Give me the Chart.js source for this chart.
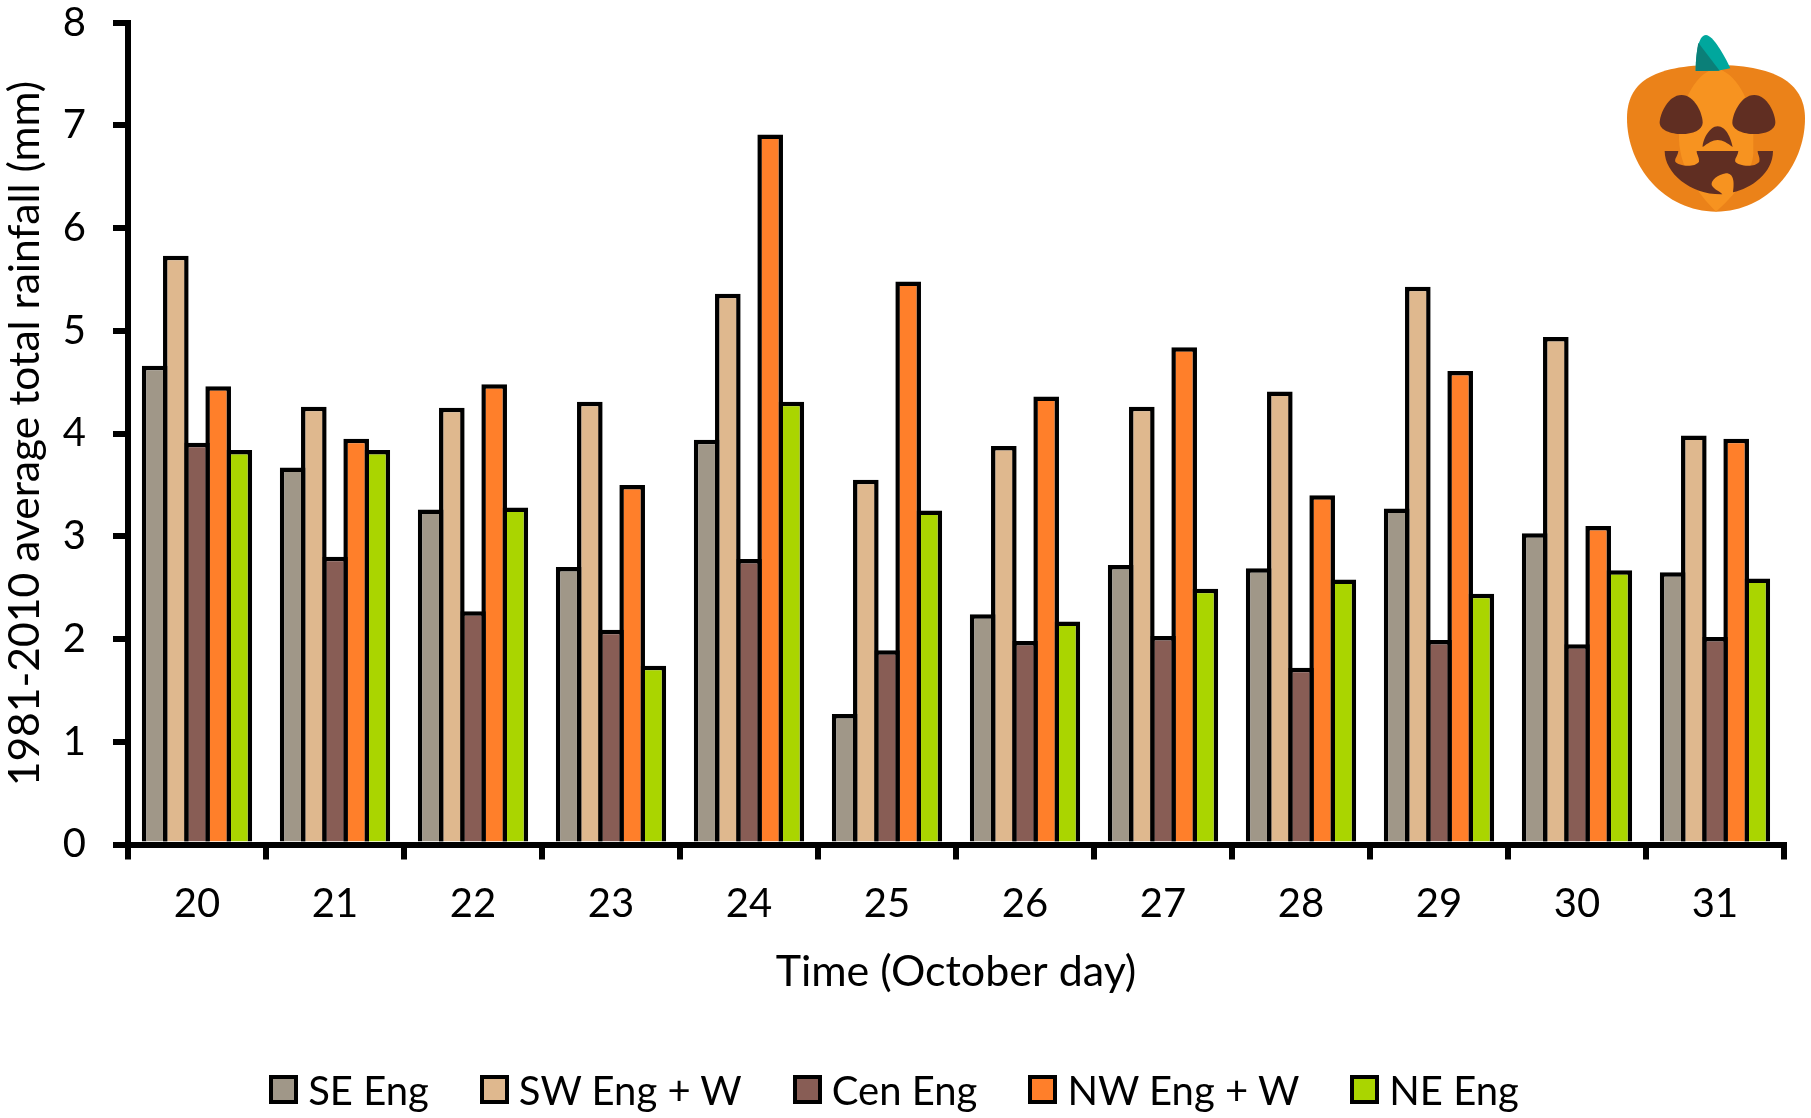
<!DOCTYPE html>
<html>
<head>
<meta charset="utf-8">
<script src="https://cdn.jsdelivr.net/npm/chart.js@4/dist/chart.umd.min.js"></script>
<style>
	html, body { margin: 0; padding: 0; background: #fff; }
	#wrap { position: relative; width: 1811px; height: 1118px; overflow: hidden; }
	#pumpkin { position: absolute; left: 1561px; top: 0; width: 250px; height: 240px; }
	#legend { position: absolute; left: 0; top: 1075px; width: 1788px; height: 29px; display: flex; justify-content: center; gap: 51px; font: 40px Lato; color: #000; }
	#legend div { display: flex; align-items: center; white-space: nowrap; }
	#legend i { display: block; width: 29px; height: 29px; box-sizing: border-box; border: 4.5px solid #000; margin-right: 10px; }
</style>
</head>
<body>
<div id="wrap">
	<canvas id="rain" width="1811" height="1118"></canvas>
	<div id="legend"></div>
	<!-- pumpkin decoration, top right corner -->
	<svg id="pumpkin" viewBox="0 0 750 720">
		<path fill="#EB8219" d="M198,355 C198,250 270,195 465,195 C660,195 732,260 732,355 C732,500 620,635 465,635 C310,635 198,500 198,355Z"/>
		<path fill="#F79320" d="M465,205 C520,215 575,300 577,400 L577,450 C580,500 540,570 465,635 C410,580 350,500 354,400 C358,300 410,215 465,205Z"/>
		<path fill="#602E22" d="M362,285 C320,285 296,345 296,368 C296,390 330,402 362,402 C395,402 425,390 425,368 C425,340 400,285 362,285Z"/>
		<path fill="#602E22" d="M580,285 C538,285 514,345 514,368 C514,390 548,402 580,402 C613,402 643,390 643,368 C643,340 618,285 580,285Z"/>
		<path fill="#602E22" d="M470,379 C445,379 425,420 425,441 C440,430 455,420 470,420 C485,420 500,430 515,441 C510,415 495,379 470,379Z"/>
		<path fill="#602E22" d="M311,453 L352,453 C350,470 340,475 343,485 C350,497 400,505 414,485 C415,470 407,465 407,453 L532,453 C530,470 520,475 523,485 C530,497 580,505 595,485 C598,470 590,465 590,453 L636,453 C636,520 570,565 516,577 C520,550 520,520 495,520 C470,525 450,540 452,555 C460,570 475,572 484,583 C390,585 311,520 311,453Z"/>
		<path fill="#00A79D" d="M404,213 C404,170 410,105 435,105 C455,105 490,165 508,205 L470,212Z"/>
		<path fill="#0B7F78" d="M404,213 C404,180 408,150 412,128 L476,212Z"/>
	</svg>
</div>
<script>
// october days
const days = ['20', '21', '22', '23', '24', '25', '26', '27', '28', '29', '30', '31'];
// rainfall per region (mm)
const seEng = [4.66, 3.67, 3.26, 2.70, 3.94, 1.27, 2.24, 2.72, 2.69, 3.27, 3.03, 2.65];
const swEng = [5.73, 4.26, 4.25, 4.31, 5.36, 3.55, 3.88, 4.26, 4.41, 5.43, 4.94, 3.98];
const cenEng = [3.91, 2.80, 2.27, 2.09, 2.78, 1.89, 1.98, 2.03, 1.72, 1.99, 1.95, 2.02];
const nwEng = [4.46, 3.95, 4.48, 3.50, 6.91, 5.48, 4.36, 4.84, 3.40, 4.61, 3.10, 3.95];
const neEng = [3.84, 3.84, 3.28, 1.74, 4.31, 3.25, 2.17, 2.49, 2.58, 2.44, 2.67, 2.59];

Chart.defaults.font.family = "Lato";
Chart.defaults.color = "#000";

function bars(label, data, color) {
	return {
		label,
		data,
		backgroundColor: color,
		borderColor: '#000',
		borderWidth: 4.5,
		borderSkipped: 'bottom',
		// borders of neighbouring bars overlap, like the excel original
		barPercentage: 1.21,
		categoryPercentage: 0.767
	};
}

var rainChart = new Chart(document.getElementById('rain'), {
	type: 'bar',
	data: {
		labels: days,
		datasets: [
			bars('SE Eng', seEng, '#A09788'),
			bars('SW Eng + W', swEng, '#DFB88E'),
			bars('Cen Eng', cenEng, '#885D55'),
			bars('NW Eng + W', nwEng, '#FF7F2A'),
			bars('NE Eng', neEng, '#AAD500')
		]
	},
	options: {
		responsive: false,
		animation: false,
		layout: { padding: { left: 0, right: 27, top: 22.6, bottom: 120 } },
		plugins: {
			tooltip: { enabled: false },
			legend: { display: false }
		},
		scales: {
			x: {
				border: { color: '#000', width: 6 },
				grid: { offset: true, drawOnChartArea: false, color: '#000', lineWidth: 6, tickLength: 15 },
				ticks: { font: { size: 40 }, color: '#000', maxRotation: 0, padding: 21 },
				title: { display: true, text: 'Time (October day)', font: { size: 43 }, color: '#000', padding: 0 },
				afterFit: (scale) => { scale.height = 153.5; }
			},
			y: {
				min: 0,
				max: 8,
				border: { color: '#000', width: 6 },
				grid: { drawOnChartArea: false, color: '#000', lineWidth: 6, tickLength: 15 },
				ticks: { stepSize: 1, font: { size: 40 }, color: '#000', padding: 27 },
				title: { display: true, text: '1981-2010 average total rainfall (mm)', font: { size: 42.6 }, color: '#000', padding: 0 },
				afterFit: (scale) => {
					scale.width = 128;
					// no room kept for half a tick label above the 8
					scale.paddingTop = 0;
					scale.paddingBottom = 0;
				}
			}
		}
	}
});

// legend row, the box to text gap is tighter than the built in legend allows
rainChart.data.datasets.forEach((ds) => {
	const item = document.createElement('div');
	const box = document.createElement('i');
	box.style.background = ds.backgroundColor;
	item.appendChild(box);
	item.appendChild(document.createTextNode(ds.label));
	document.getElementById('legend').appendChild(item);
});
</script>
</body>
</html>
